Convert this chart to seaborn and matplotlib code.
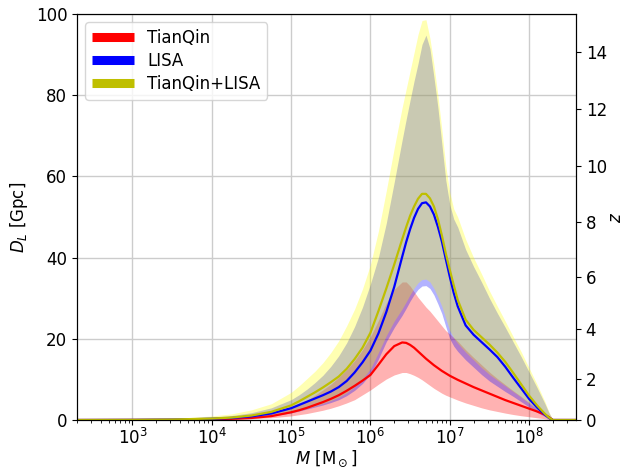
import numpy as np
import pandas as pd
import seaborn as sns
import matplotlib
matplotlib.use("Agg")
import matplotlib.pyplot as plt
from matplotlib.lines import Line2D

# log10 of total mass [M_sun]
log_mass = np.array([2.3, 3.0, 3.5, 4.0, 4.25, 4.5, 4.75, 5.0, 5.1, 5.2, 5.3, 5.4, 5.5,
                     5.6, 5.7, 5.8, 5.9, 6.0, 6.1, 6.2, 6.3, 6.4, 6.45, 6.5, 6.55, 6.6,
                     6.65, 6.7, 6.75, 6.8, 6.85, 6.9, 6.95, 7.0, 7.05, 7.1, 7.2, 7.3, 7.4,
                     7.5, 7.6, 7.7, 7.8, 7.9, 8.0, 8.1, 8.2, 8.25, 8.3, 8.61])

# horizon distance D_L [Gpc]: median curve and band edges for each detector
tq_mid = [0, 0.02, 0.05, 0.15, 0.28, 0.5, 0.95, 1.9, 2.4, 3.0, 3.7, 4.4, 5.2,
          6.1, 7.2, 8.4, 9.7, 11.1, 13.6, 16.2, 18.2, 19.1, 19.0, 18.5, 17.8, 16.9,
          16.0, 15.1, 14.3, 13.5, 12.8, 12.1, 11.5, 10.9, 10.4, 9.9, 9.0, 8.1, 7.3,
          6.5, 5.7, 4.9, 4.2, 3.5, 2.8, 2.1, 1.3, 0.7, 0, 0]
tq_lo = [0, 0.01, 0.03, 0.08, 0.15, 0.3, 0.55, 1.0, 1.3, 1.6, 2.0, 2.4, 2.9,
         3.5, 4.2, 5.0, 6.2, 7.4, 8.8, 10.1, 11.1, 11.7, 11.7, 11.4, 11.0, 10.5,
         9.9, 9.2, 8.5, 7.8, 7.2, 6.6, 6.1, 5.7, 5.3, 4.9, 4.2, 3.6, 3.0,
         2.5, 2.1, 1.7, 1.35, 1.05, 0.8, 0.55, 0.3, 0.15, 0, 0]
tq_hi = [0, 0.03, 0.08, 0.25, 0.45, 0.8, 1.6, 3.2, 4.0, 4.9, 6.1, 7.4, 8.8,
         10.5, 12.4, 14.6, 17.3, 20.5, 24.5, 28.8, 32.2, 34.0, 34.0, 33.0, 31.6, 30.2,
         29.0, 27.8, 26.8, 25.6, 24.4, 23.2, 22.0, 21.2, 20.3, 19.4, 17.3, 15.4, 13.6,
         11.8, 10.2, 8.7, 7.2, 5.8, 4.3, 2.8, 1.3, 0.55, 0, 0]

lisa_mid = [0, 0.03, 0.1, 0.3, 0.5, 0.9, 1.6, 2.9, 3.7, 4.5, 5.3, 6.1, 7.0,
            8.1, 9.6, 11.7, 14.2, 17.1, 21.3, 26.6, 32.8, 40.2, 43.8, 47.0, 49.8, 52.0,
            53.4, 53.6, 52.6, 50.6, 47.6, 44.0, 39.6, 35.3, 31.3, 28.0, 23.3, 21.0, 19.2,
            17.4, 15.5, 13.1, 10.4, 7.8, 5.2, 3.1, 1.3, 0.5, 0, 0]
lisa_lo = [0, 0.02, 0.06, 0.18, 0.3, 0.55, 1.0, 1.75, 2.2, 2.7, 3.2, 3.7, 4.3,
           5.0, 6.0, 7.3, 9.0, 11.3, 15.0, 19.3, 22.8, 25.8, 27.5, 29.3, 30.9, 32.2,
           33.0, 33.1, 32.4, 30.8, 28.6, 26.2, 23.0, 20.0, 18.2, 16.9, 14.8, 13.0, 11.2,
           9.6, 8.3, 7.0, 5.8, 4.5, 3.2, 1.9, 0.8, 0.3, 0, 0]
lisa_hi = [0, 0.08, 0.25, 0.75, 1.1, 1.8, 3.0, 5.0, 6.2, 7.6, 9.2, 11.0, 13.2,
           15.8, 19.0, 23.0, 27.8, 33.5, 40.0, 48.5, 58.6, 69.0, 74.0, 78.8, 83.5, 87.8,
           92.5, 94.8, 91.5, 84.5, 77.0, 68.0, 59.0, 53.0, 49.5, 47.5, 42.0, 37.8, 34.0,
           30.0, 26.3, 22.8, 19.2, 15.6, 11.8, 8.0, 4.0, 1.8, 0, 0]

joint_mid = [0, 0.04, 0.12, 0.35, 0.6, 1.1, 2.0, 3.6, 4.6, 5.7, 6.8, 8.0, 9.3,
             10.7, 12.6, 15.0, 17.8, 21.5, 26.8, 32.4, 38.3, 44.5, 47.5, 50.3, 52.6, 54.5,
             55.7, 55.7, 54.6, 52.6, 49.5, 45.5, 41.0, 37.0, 33.2, 29.6, 24.7, 22.2, 20.4,
             18.6, 16.6, 14.3, 11.6, 8.8, 6.0, 3.6, 1.5, 0.6, 0, 0]
joint_lo = [0, 0.02, 0.07, 0.2, 0.33, 0.6, 1.1, 1.9, 2.4, 3.0, 3.5, 4.1, 4.8,
            5.6, 6.7, 8.2, 10.1, 12.6, 16.6, 20.8, 24.4, 27.4, 29.1, 30.9, 32.5, 33.8,
            34.6, 34.7, 34.0, 32.4, 30.3, 28.0, 25.0, 22.0, 20.2, 18.9, 16.7, 14.8, 12.9,
            11.2, 9.8, 8.4, 7.0, 5.6, 4.1, 2.6, 1.2, 0.5, 0, 0]
joint_hi = [0, 0.1, 0.3, 1.0, 1.5, 2.5, 4.0, 6.8, 8.4, 10.2, 12.0, 14.1, 16.6,
            19.5, 23.2, 27.3, 32.3, 38.3, 46.5, 56.5, 67.0, 77.0, 81.5, 86.0, 90.5, 95.0,
            98.4, 98.6, 94.0, 87.5, 80.0, 71.5, 62.5, 56.0, 52.0, 50.0, 44.5, 40.0, 36.0,
            31.8, 28.0, 24.3, 20.5, 16.8, 12.8, 8.8, 4.5, 2.0, 0, 0]

# redshift axis: tick labels and the D_L [Gpc] they sit at
z_ticks = [0, 2, 4, 6, 8, 10, 12, 14]
z_at_dl = [0, 10.0, 22.3, 35.3, 48.8, 62.6, 76.6, 90.7]

names = ["TianQin", "LISA", "TianQin+LISA"]
line_colors = ["r", "b", "y"]
band_colors = ["r", "b", "yellow"]

mass = 10 ** log_mass
df = pd.DataFrame({"M": np.tile(mass, 3),
                   "DL": np.concatenate([tq_mid, lisa_mid, joint_mid]),
                   "det": np.repeat(names, len(mass))})

sns.set_style("ticks")
plt.rcParams.update({
    "font.family": ["DejaVu Sans"],
    "font.size": 12,
    "axes.edgecolor": "black",
    "text.color": "black",
    "axes.labelcolor": "black",
    "xtick.color": "black",
    "ytick.color": "black",
    "xtick.labelsize": 12,
    "ytick.labelsize": 12,
    "axes.labelsize": 12,
    "legend.fontsize": 12,
    "mathtext.fontset": "dejavusans",
})

fig = plt.figure(figsize=(6.23, 4.72), dpi=100)
ax = fig.add_axes([77 / 623, 52 / 472, 499 / 623, 406 / 472])

ax.grid(True, color="#cccccc", linewidth=1.0, which="major")
ax.set_axisbelow(True)

for lo, hi, c in zip([tq_lo, lisa_lo, joint_lo], [tq_hi, lisa_hi, joint_hi], band_colors):
    ax.fill_between(mass, lo, hi, color=c, alpha=0.3, linewidth=0)

sns.lineplot(data=df, x="M", y="DL", hue="det", palette=dict(zip(names, line_colors)),
             hue_order=names, linewidth=1.6, legend=False, ax=ax, sort=False)

ax.set_xscale("log")
ax.set_xlim(2e2, 3.9e8)
ax.set_ylim(0, 100)
ax.set_yticks([0, 20, 40, 60, 80, 100])
ax.set_xticks([1e3, 1e4, 1e5, 1e6, 1e7, 1e8])
ax.set_xlabel(r"$M$ [M$_\odot$]", labelpad=0)
ax.set_ylabel(r"$D_L$ [Gpc]")
ax.tick_params(which="both", direction="out")
ax.tick_params(axis="x", which="major", pad=2.5)

ax2 = ax.twinx()
ax2.set_ylim(0, 100)
ax2.set_yticks(z_at_dl)
ax2.set_yticklabels([str(z) for z in z_ticks])
ax2.set_ylabel(r"$z$", labelpad=0)
ax2.grid(False)

handles = [Line2D([], [], color=c, lw=6.5, solid_capstyle="butt") for c in line_colors]
ax.legend(handles, names, loc="upper left", handlelength=2.5, labelspacing=0.3,
          frameon=True, fancybox=True, framealpha=0.8)

fig.savefig("out.png", dpi=100)
